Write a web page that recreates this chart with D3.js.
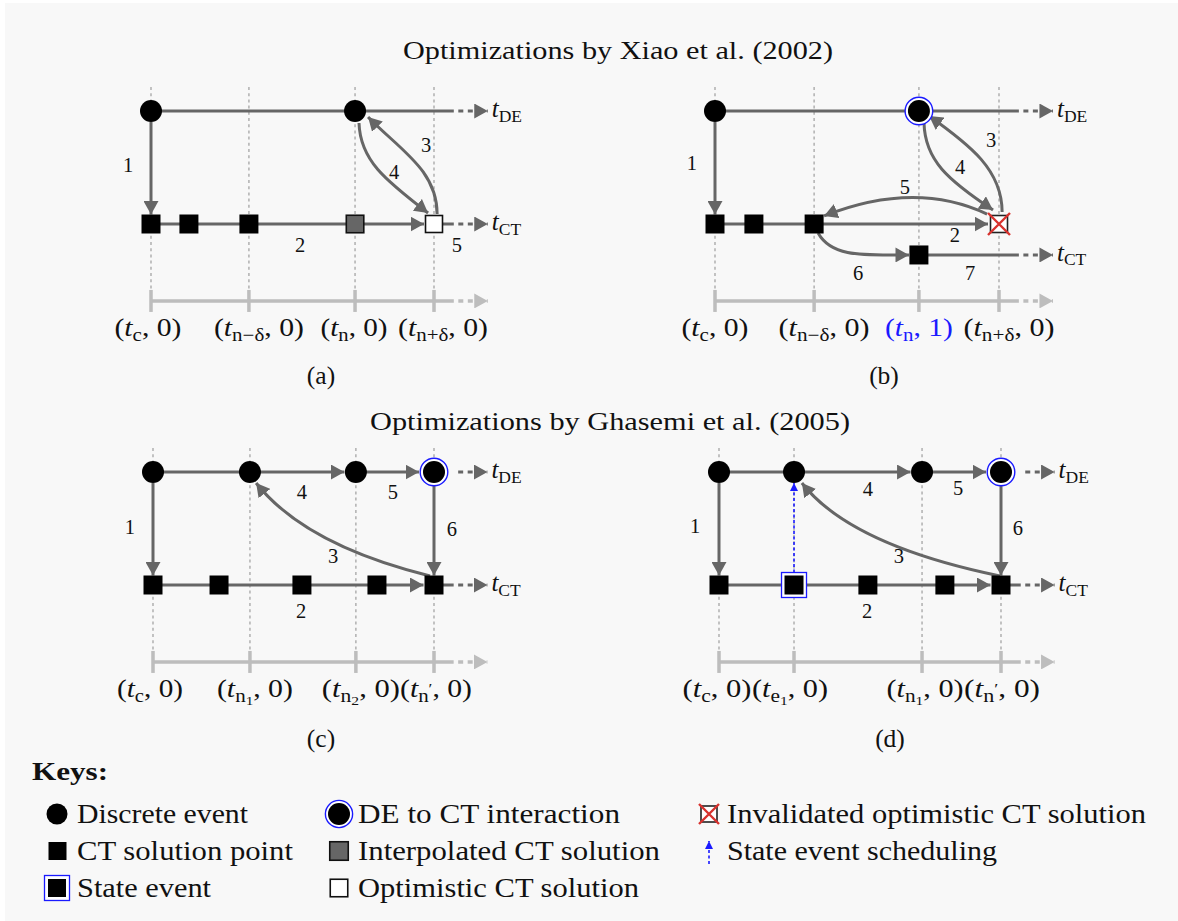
<!DOCTYPE html>
<html><head><meta charset="utf-8">
<script src="https://cdn.jsdelivr.net/npm/d3@7"></script>
<style>body{margin:0;background:#fff}svg{display:block}</style>
</head><body><svg id="c" width="1178" height="921"></svg>
<script>
// ================= DATA =================
const titles = ["Optimizations by Xiao et al. (2002)", "Optimizations by Ghasemi et al. (2005)"];
const captions = ["(a)", "(b)", "(c)", "(d)"];

// tick times (normalised 0..100 between first and last tick) per panel
const ticksA = [0, 34.6, 72.1, 100];
const ticksB = [0, 34.9, 71.8, 100];
const ticksC = [0, 34.5, 72.2, 100];
const ticksD = [0, 26.6, 72.0, 100];

// tick labels
const tickLabelsA = [{sub:"c",v:"0"},{sub:"n\u2212\u03b4",v:"0"},{sub:"n",v:"0"},{sub:"n+\u03b4",v:"0"}];
const tickLabelsB = [{sub:"c",v:"0"},{sub:"n\u2212\u03b4",v:"0"},{sub:"n",v:"1",hl:true},{sub:"n+\u03b4",v:"0"}];
const tickLabelsC = [{sub:"c",v:"0"},{sub:"n",ss:"1",v:"0"},{sub:"n",ss:"2",v:"0"},{sub:"n",sup:"\u2032",v:"0"}];
const tickLabelsD = [{sub:"c",v:"0"},{sub:"e",ss:"1",v:"0"},{sub:"n",ss:"1",v:"0"},{sub:"n",sup:"\u2032",v:"0"}];

// discrete events (time) on DE row
const discreteA = [0, 72.1];
const discreteB = [0, 71.8];
const discreteC = [0, 34.5, 72.2, 100];
const discreteD = [0, 26.6, 72.0, 100];
// DE to CT interaction events
const interactB = [71.8];
const interactC = [100];
const interactD = [100];
// CT solution points [time,row]
const ctA = [[0,1],[13.4,1],[34.6,1]];
const ctB = [[0,1],[13.7,1],[34.9,1],[71.8,1.274]];
const ctC = [[0,1],[23.5,1],[53.0,1],[79.7,1],[100,1]];
const ctD = [[0,1],[26.6,1],[52.8,1],[80.1,1],[100,1]];
const interpA = [[72.1,1]];
const optimA = [[100,1]];
const invalidB = [[100,1]];
const stateD = [[26.6,1]];

// straight edges: [fromT, fromRow, toT, toRow, arrow?, gapStart, gapEnd]
const edgesA = [[0,0,107,0,0,0,0],[0,1,72.1,1,0,0,0],[72.1,1,100,1,1,0,10],[100,1,107,1,0,0,0],[0,0,0,1,1,11,9.5]];
const edgesB = [[0,0,107,0,0,0,0],[0,1,34.9,1,0,0,0],[34.9,1,100,1,1,0,11],[71.8,1.274,107,1.274,0,0,0],[0,0,0,1,1,11,9.5]];
const edgesC = [[0,0,34.5,0,0,0,0],[34.5,0,72.2,0,1,0,11.5],[72.2,0,100,0,1,0,15],[0,1,79.7,1,0,0,0],[79.7,1,100,1,1,0,10.5],[100,1,107,1,0,0,0],[0,0,0,1,1,11,9.5],[100,0,100,1,1,14,9.5]];
const edgesD = [[0,0,26.6,0,0,0,0],[26.6,0,72.0,0,1,0,11.5],[72.0,0,100,0,1,0,15],[0,1,80.1,1,0,0,0],[80.1,1,100,1,1,0,10.5],[100,1,107,1,0,0,0],[0,0,0,1,1,11,9.5],[100,0,100,1,1,14,9.5]];
// dotted extensions (rows)
const extA = [0, 1];
const extB = [0, 1.274];
const extC = [0, 1];
const extD = [0, 1];
// curved edges: list of [t,row] points (start, controls..., end)
const curvesA = [[[101.1,.912],[101.1,.522],[88.0,.345],[76.7,.053]], [[73.5,.106],[73.9,.434],[82.7,.611],[97.9,.903]]];
const curvesB = [[[101.1,.894],[101.1,.522],[89.8,.301],[75.4,.044]], [[73.6,.106],[73.9,.434],[82.0,.611],[97.9,.876]],
                 [[95.8,.912],[70.4,.611],[38.4,.929]], [[36.3,1.080],[41.2,1.301],[52.8,1.274],[68.3,1.274]]];
const curvesC = [[[98.6,.920],[54.1,.646],[36.7,.097]]];
const curvesD = [[[99.6,.920],[46.5,.646],[29.4,.097]]];
// state event scheduling (blue dotted) [fromT,fromRow,toT,toRow]
const schedD = [[26.6,1,26.6,0]];
// step number labels: [text, t, row]
const numsA = [["1",-8.1,.478],["2",52.7,1.186],["3",97.2,.301],["4",85.9,.540],["5",108.1,1.186]];
const numsB = [["1",-8.1,.460],["2",84.5,1.097],["3",97.2,.257],["4",86.3,.496],["5",66.9,.673],["6",50.4,1.434],["7",89.8,1.434]];
const numsC = [["1",-8.2,.487],["2",52.7,1.230],["3",64.1,.743],["4",53.0,.177],["5",85.4,.177],["6",106.4,.504]];
const numsD = [["1",-8.5,.478],["2",52.5,1.230],["3",63.8,.743],["4",52.8,.150],["5",84.8,.142],["6",106.0,.496]];
// timeline row labels
const rowLabelsA = [["DE",0],["CT",1]];
const rowLabelsB = [["DE",0],["CT",1.274]];
const rowLabelsC = [["DE",0],["CT",1]];
const rowLabelsD = [["DE",0],["CT",1]];

// keys
const keyCol1 = ["Discrete event", "CT solution point", "State event"];
const keyCol2 = ["DE to CT interaction", "Interpolated CT solution", "Optimistic CT solution"];
const keyCol3 = ["Invalidated optimistic CT solution", "State event scheduling"];

// ================= LAYOUT / STYLE =================
const FONT = "'Liberation Serif','Times New Roman',serif";
const FG = "#666666", LIGHT = "#bdbdbd", GRID = "#ababab", BLUE = "#1a1aff", RED = "#d8322e";
const ROW_H = 113, AXIS_ROW = 1.681, EXT_START = 107, EXT_END = 119;
const layouts = [
  {x0:151, x1:434, top:111, cap:[321,384], labelDx:[-3,10,-1,9], labelW:[67,90,67,90]},
  {x0:715, x1:999, top:111, cap:[884,384], labelDx:[0,10,0,10], labelW:[67,91,68,91]},
  {x0:153, x1:434, top:472, cap:[321,747], labelDx:[-3,5,5,2], labelW:[66,76,78,72]},
  {x0:719, x1:1001, top:472, cap:[890,747], labelDx:[-2,-4,3,1], labelW:[69,76,77,76]}
];
const panels = [
  {ticks:ticksA, labels:tickLabelsA, disc:discreteA, inter:[], ct:ctA, interp:interpA, optim:optimA, inval:[], state:[], edges:edgesA, ext:extA, curves:curvesA, sched:[], nums:numsA, rows:rowLabelsA},
  {ticks:ticksB, labels:tickLabelsB, disc:discreteB, inter:interactB, ct:ctB, interp:[], optim:[], inval:invalidB, state:[], edges:edgesB, ext:extB, curves:curvesB, sched:[], nums:numsB, rows:rowLabelsB},
  {ticks:ticksC, labels:tickLabelsC, disc:discreteC, inter:interactC, ct:ctC, interp:[], optim:[], inval:[], state:[], edges:edgesC, ext:extC, curves:curvesC, sched:[], nums:numsC, rows:rowLabelsC},
  {ticks:ticksD, labels:tickLabelsD, disc:discreteD, inter:interactD, ct:ctD, interp:[], optim:[], inval:[], state:stateD, edges:edgesD, ext:extD, curves:curvesD, sched:schedD, nums:numsD, rows:rowLabelsD}
];

const svg = d3.select("#c");
svg.append("rect").attr("x",5).attr("y",3).attr("width",1173).attr("height",918).attr("fill","#f8f8f8");

const defs = svg.append("defs");
function marker(id, color, len, w) {
  defs.append("marker").attr("id",id).attr("markerUnits","userSpaceOnUse")
    .attr("viewBox",`0 0 ${len} ${w}`).attr("refX",len).attr("refY",w/2)
    .attr("markerWidth",len).attr("markerHeight",w).attr("orient","auto")
    .append("path").attr("d",`M0,0L${len},${w/2}L0,${w}Z`).attr("fill",color);
}
marker("ah", FG, 13.5, 15);
marker("ahL", LIGHT, 13.5, 15);
marker("ahB", BLUE, 8, 8);

// titles
svg.append("text").attr("x",618).attr("y",59).attr("text-anchor","middle").attr("font-family",FONT)
  .attr("font-size",26).attr("fill","#111").attr("textLength",430).attr("lengthAdjust","spacingAndGlyphs").text(titles[0]);
svg.append("text").attr("x",610).attr("y",430).attr("text-anchor","middle").attr("font-family",FONT)
  .attr("font-size",26).attr("fill","#111").attr("textLength",480).attr("lengthAdjust","spacingAndGlyphs").text(titles[1]);

// symbol helpers
function circleNode(g, x, y, r) { g.append("circle").attr("cx",x).attr("cy",y).attr("r",r).attr("fill","#000"); }
function ringNode(g, x, y, r, rr) {
  g.append("circle").attr("cx",x).attr("cy",y).attr("r",rr).attr("fill","#fff").attr("stroke",BLUE).attr("stroke-width",1.4);
  circleNode(g,x,y,r);
}
function squareNode(g, x, y, s, fill, stroke, sw) {
  g.append("rect").attr("x",x-s/2).attr("y",y-s/2).attr("width",s).attr("height",s).attr("fill",fill)
    .attr("stroke",stroke||"none").attr("stroke-width",sw||0);
}
function stateNode(g, x, y, s, so) {
  squareNode(g,x,y,so,"#fff",BLUE,1.3);
  squareNode(g,x,y,s,"#000");
}
function invalidNode(g, x, y, s, xs) {
  squareNode(g,x,y,s,"#fff","#222",1.6);
  g.append("path").attr("d",`M${x-xs},${y-xs}L${x+xs},${y+xs}M${x+xs},${y-xs}L${x-xs},${y+xs}`)
    .attr("stroke",RED).attr("stroke-width",2.4).attr("fill","none");
}

function mathLabel(g, x, y, spec, width, color) {
  const t = g.append("text").attr("x",x).attr("y",y).attr("text-anchor","middle").attr("font-family",FONT)
    .attr("font-size",25.5).attr("fill",color);
  t.append("tspan").text("(");
  t.append("tspan").attr("font-style","italic").text("t");
  let dy = 5;
  t.append("tspan").attr("font-size",18).attr("dy",5).text(spec.sub);
  if (spec.ss) { t.append("tspan").attr("font-size",13).attr("dy",3).text(spec.ss); dy += 3; }
  if (spec.sup) { t.append("tspan").attr("font-size",15).attr("dy",-8).text(spec.sup); dy -= 8; }
  t.append("tspan").attr("dy",-dy).text(", " + spec.v + ")");
  if (width) t.attr("textLength",width).attr("lengthAdjust","spacingAndGlyphs");
}

panels.forEach((p, i) => {
  const L = layouts[i];
  const g = svg.append("g");
  const x = d3.scaleLinear().domain([0,100]).range([L.x0, L.x1]);
  const y = d3.scaleLinear().domain([0,1]).range([L.top, L.top + ROW_H]);
  const ay = y(AXIS_ROW);
  const line = d3.line();

  // grid
  g.selectAll(".grid").data(p.ticks).join("line")
    .attr("x1",d=>x(d)).attr("x2",d=>x(d)).attr("y1",y(0)-24).attr("y2",ay-11)
    .attr("stroke",GRID).attr("stroke-width",1.4).attr("stroke-dasharray","3,3.2");

  // axis
  g.append("line").attr("x1",x(0)).attr("x2",x(EXT_START)).attr("y1",ay).attr("y2",ay)
    .attr("stroke",LIGHT).attr("stroke-width",3.5);
  g.append("path").attr("d",line([[x(EXT_START),ay],[x(EXT_END),ay]]))
    .attr("stroke",LIGHT).attr("stroke-width",3.5).attr("stroke-dasharray","5,4.5").attr("stroke-dashoffset",5)
    .attr("fill","none").attr("marker-end","url(#ahL)");
  g.selectAll(".tick").data(p.ticks).join("line")
    .attr("x1",d=>x(d)).attr("x2",d=>x(d)).attr("y1",ay-11).attr("y2",ay+11)
    .attr("stroke",LIGHT).attr("stroke-width",3.5);
  p.labels.forEach((lab, k) => {
    mathLabel(g, x(p.ticks[k]) + L.labelDx[k], ay + 35, lab, L.labelW[k], lab.hl ? BLUE : "#111");
  });

  // straight edges
  p.edges.forEach(e => {
    let [x1,y1,x2,y2] = [x(e[0]),y(e[1]),x(e[2]),y(e[3])];
    const len = Math.hypot(x2-x1,y2-y1), ux=(x2-x1)/len, uy=(y2-y1)/len;
    x1 += ux*e[5]; y1 += uy*e[5]; x2 -= ux*e[6]; y2 -= uy*e[6];
    g.append("path").attr("d",line([[x1,y1],[x2,y2]])).attr("stroke",FG).attr("stroke-width",3)
      .attr("fill","none").attr("marker-end", e[4] ? "url(#ah)" : null);
  });
  // dotted extensions
  p.ext.forEach(r => {
    g.append("path").attr("d",line([[x(EXT_START),y(r)],[x(EXT_END),y(r)]]))
      .attr("stroke",FG).attr("stroke-width",3).attr("stroke-dasharray","5,4.5").attr("stroke-dashoffset",5)
      .attr("fill","none").attr("marker-end","url(#ah)");
  });
  // curves
  p.curves.forEach(c => {
    const pts = c.map(q => [x(q[0]), y(q[1])]);
    const path = d3.path();
    path.moveTo(pts[0][0], pts[0][1]);
    if (pts.length === 3) path.quadraticCurveTo(pts[1][0],pts[1][1],pts[2][0],pts[2][1]);
    else path.bezierCurveTo(pts[1][0],pts[1][1],pts[2][0],pts[2][1],pts[3][0],pts[3][1]);
    g.append("path").attr("d",path.toString()).attr("stroke",FG).attr("stroke-width",3)
      .attr("fill","none").attr("marker-end","url(#ah)");
  });
  // row labels t_DE / t_CT
  p.rows.forEach(r => {
    const t = g.append("text").attr("x",x(EXT_END)+4).attr("y",y(r[1])+6).attr("font-family",FONT)
      .attr("font-size",25).attr("fill","#111");
    t.append("tspan").attr("font-style","italic").text("t");
    t.append("tspan").attr("font-size",17.5).attr("dy",4.5).text(r[0]);
  });

  // nodes
  p.disc.forEach(t => { if (!p.inter.includes(t)) circleNode(g, x(t), y(0), 11); });
  p.inter.forEach(t => ringNode(g, x(t), y(0), 11, 13.8));
  p.ct.forEach(c => {
    if (p.state.some(s => s[0]===c[0] && s[1]===c[1])) stateNode(g, x(c[0]), y(c[1]), 19, 25);
    else squareNode(g, x(c[0]), y(c[1]), 19, "#000");
  });
  p.interp.forEach(c => squareNode(g, x(c[0]), y(c[1]), 17.5, "#666", "#111", 1.6));
  p.optim.forEach(c => squareNode(g, x(c[0]), y(c[1]), 17, "#fff", "#111", 1.6));
  p.inval.forEach(c => invalidNode(g, x(c[0]), y(c[1]), 17, 11));

  // state event scheduling
  p.sched.forEach(s => {
    g.append("path").attr("d",line([[x(s[0]),y(s[1])-12.5],[x(s[2]),y(s[3])+11]]))
      .attr("stroke",BLUE).attr("stroke-width",1.6).attr("stroke-dasharray","3,2.5")
      .attr("fill","none").attr("marker-end","url(#ahB)");
  });

  // step numbers
  g.selectAll(".num").data(p.nums).join("text")
    .attr("x",d=>x(d[1])).attr("y",d=>y(d[2])+7).attr("text-anchor","middle")
    .attr("font-family",FONT).attr("font-size",20.5).attr("fill","#111").text(d=>d[0]);

  // caption
  g.append("text").attr("x",L.cap[0]).attr("y",L.cap[1]).attr("text-anchor","middle")
    .attr("font-family",FONT).attr("font-size",25.5).attr("fill","#111").text(captions[i]);
});

// ================= KEYS =================
const kg = svg.append("g");
kg.append("text").attr("x",32).attr("y",780).attr("font-family",FONT).attr("font-size",26)
  .attr("font-weight","bold").attr("fill","#111").attr("textLength",76).attr("lengthAdjust","spacingAndGlyphs").text("Keys:");
const keyRowY = [814, 851, 888];
const col1W = [171, 216, 134], col2W = [262, 302, 281], col3W = [419, 270];
function keyText(x, yc, s, w) {
  kg.append("text").attr("x",x).attr("y",yc+8.5).attr("font-family",FONT).attr("font-size",26.5).attr("fill","#111")
    .attr("textLength",w).attr("lengthAdjust","spacingAndGlyphs").text(s);
}
keyCol1.forEach((s,k)=>keyText(77, keyRowY[k], s, col1W[k]));
keyCol2.forEach((s,k)=>keyText(358, keyRowY[k], s, col2W[k]));
keyCol3.forEach((s,k)=>keyText(727, keyRowY[k], s, col3W[k]));
circleNode(kg, 57, keyRowY[0], 10.5);
squareNode(kg, 57.5, keyRowY[1], 18, "#000");
stateNode(kg, 57, keyRowY[2], 18, 25);
ringNode(kg, 339, keyRowY[0], 11, 13.6);
squareNode(kg, 339, keyRowY[1], 18.5, "#666", "#111", 1.6);
squareNode(kg, 339, keyRowY[2], 17.5, "#fff", "#111", 1.6);
invalidNode(kg, 709, keyRowY[0], 16, 10);
kg.append("path").attr("d",d3.line()([[709,864],[709,841]])).attr("stroke",BLUE).attr("stroke-width",1.6)
  .attr("stroke-dasharray","3,2.5").attr("fill","none").attr("marker-end","url(#ahB)");
</script></body></html>
